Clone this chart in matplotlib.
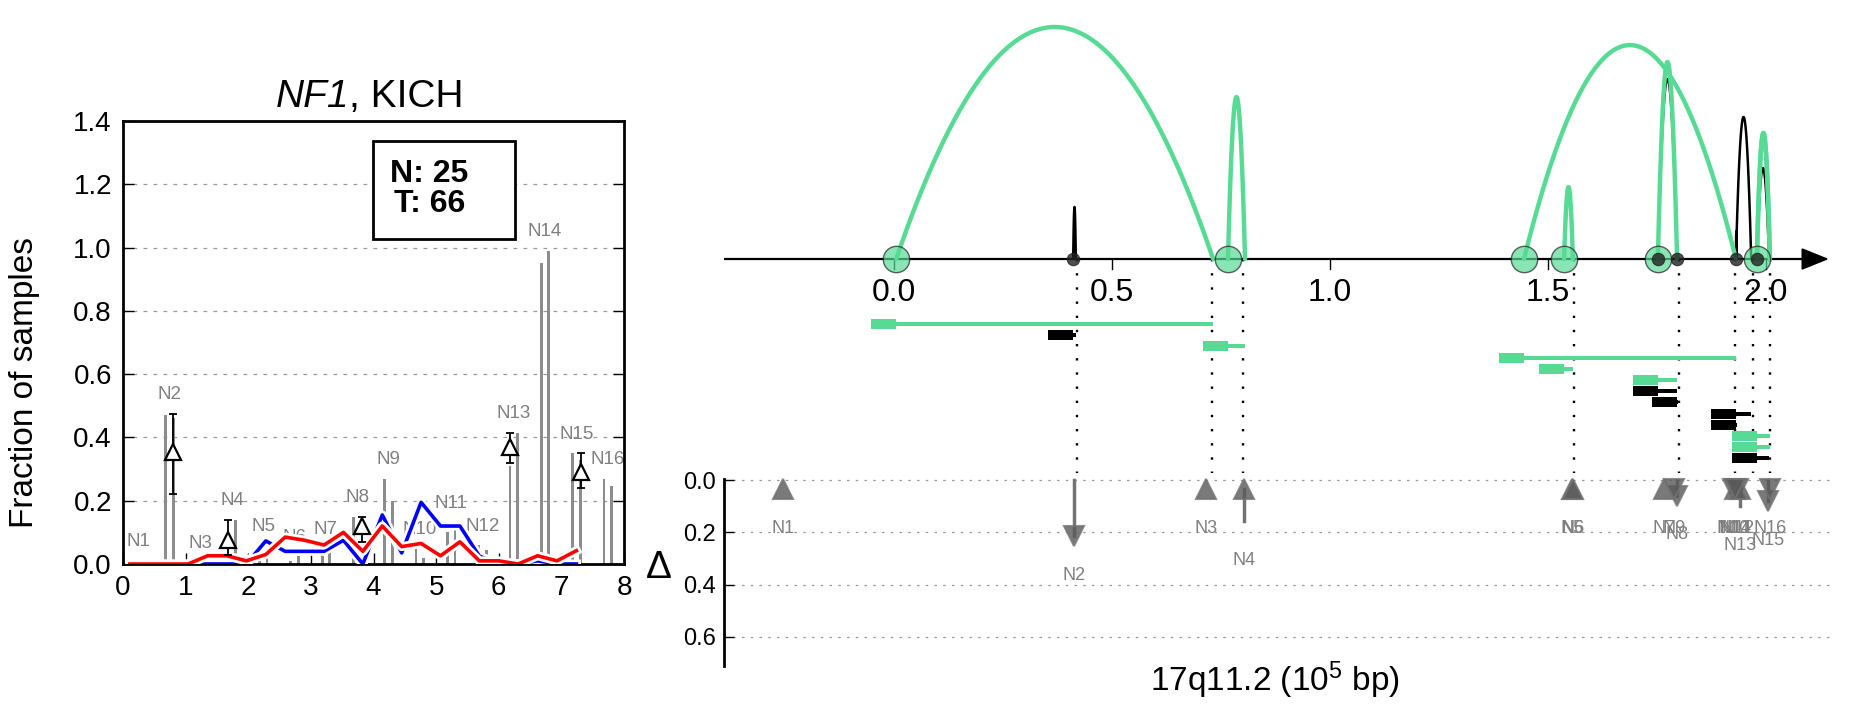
import numpy as np
import matplotlib
matplotlib.use("Agg")
import matplotlib.pyplot as plt
import matplotlib.patheffects as pe
from matplotlib.patches import Rectangle, Polygon

plt.rcParams['font.family'] = ['Liberation Sans', 'DejaVu Sans']
plt.rcParams['mathtext.fontset'] = 'custom'
plt.rcParams['mathtext.rm'] = 'Liberation Sans'
plt.rcParams['mathtext.it'] = 'Liberation Sans:italic'

# ---------------- left panel data ----------------
n_labels = ["N%d" % i for i in range(1, 17)]
bar_x = [0.18, 0.68, 1.18, 1.68, 2.18, 2.68, 3.18, 3.68,
         4.18, 4.68, 5.18, 5.68, 6.18, 6.68, 7.18, 7.68]
bar_h1 = [0.01, 0.47, 0.0, 0.0, 0.06, 0.01, 0.05, 0.15,
          0.27, 0.05, 0.10, 0.06, 0.31, 0.95, 0.35, 0.27]
bar_h2 = [0.0, 0.46, 0.005, 0.14, 0.02, 0.025, 0.05, 0.05,
          0.20, 0.02, 0.13, 0.045, 0.415, 0.99, 0.33, 0.245]

tri_x = [0.80, 1.68, 3.82, 6.18, 7.32]
tri_y = [0.355, 0.076, 0.12, 0.37, 0.29]
tri_lo = [0.22, 0.03, 0.07, 0.32, 0.24]
tri_hi = [0.475, 0.14, 0.148, 0.415, 0.35]

line_x = [0.11, 0.42, 0.73, 1.04, 1.35, 1.66, 1.97, 2.28, 2.59, 2.90, 3.21, 3.52,
          3.83, 4.14, 4.45, 4.76, 5.07, 5.38, 5.69, 6.00, 6.31, 6.62, 6.93, 7.24]
blue_y = [0, 0, 0, 0, 0, 0, 0, 0.073, 0.04, 0.04, 0.04, 0.075,
          0.0, 0.155, 0.035, 0.195, 0.12, 0.12, 0.025, 0.0, 0.0, 0.01, 0.0, 0.0]
red_y = [0, 0, 0, 0, 0.026, 0.026, 0.01, 0.03, 0.085, 0.075, 0.06, 0.10,
         0.04, 0.12, 0.055, 0.065, 0.026, 0.07, 0.01, 0.01, 0.0, 0.026, 0.01, 0.042]

n_count, t_count = 25, 66
gene, cohort = "NF1", "KICH"

# ---------------- right panel data (x in 1e5 bp) ----------------
bp1 = [0.005, 0.411, 0.766, 1.445, 1.537, 1.752, 1.752, 1.796, 1.931, 1.931, 1.979, 1.979, 1.979]
bp2 = [0.732, 0.417, 0.805, 1.931, 1.557, 1.796, 1.796, 1.798, 1.966, 1.933, 2.009, 2.009, 2.007]
ev_green = [1, 0, 1, 1, 1, 1, 0, 0, 0, 0, 1, 1, 0]
arc_h = [1.0, 0.224, 0.698, 0.922, 0.310, 0.849, 0.776, 0.06, 0.612, 0.12, 0.543, 0.543, 0.392]

pos_ticks = [0.0, 0.5, 1.0, 1.5, 2.0]

d_labels = ["N%d" % i for i in range(1, 17)]
d_pos = [-0.255, 0.413, 0.715, 0.802, 1.555, 1.557, 1.766, 1.796,
         1.790, 1.925, 1.930, 1.935, 1.940, 1.930, 2.005, 2.009]
d_start = [0.035, 0.0, 0.035, 0.157, 0.035, 0.035, 0.035, 0.0,
           0.035, 0.035, 0.035, 0.035, 0.10, 0.035, 0.0, 0.035]
d_end = [0.035, 0.215, 0.035, 0.035, 0.035, 0.035, 0.035, 0.06,
         0.035, 0.035, 0.035, 0.035, 0.035, 0.035, 0.08, 0.035]
d_up = [1, 0, 1, 1, 1, 1, 1, 0, 0, 0, 1, 0, 1, 0, 0, 0]

GREEN = '#57DB94'

W, H = 1851, 718
fig = plt.figure(figsize=(W / 100, H / 100), dpi=100)


def box(x0, y0, x1, y1):
    return [x0 / W, 1 - y1 / H, (x1 - x0) / W, (y1 - y0) / H]


# ================= left panel =================
ax1 = fig.add_axes(box(123, 121, 624, 564))
ax1.bar(bar_x, bar_h1, width=0.045, color='0.55', zorder=1)
ax1.bar([x + 0.12 for x in bar_x], bar_h2, width=0.045, color='0.55', zorder=1)

for i, lab in enumerate(n_labels):
    top = max(bar_h1[i], bar_h2[i])
    for j, tx in enumerate(tri_x):
        if abs(tx - bar_x[i] - 0.06) < 0.2:
            top = max(top, tri_hi[j])
    ax1.text(bar_x[i] + 0.06, top + 0.06, lab, color='0.5', fontsize=13.5,
             ha='center', va='center', zorder=2)

stroke = [pe.Stroke(linewidth=6.5, foreground='white'), pe.Normal()]
ax1.plot(line_x, blue_y, color='#0000FF', lw=2.6, zorder=3, path_effects=stroke)
ax1.plot(line_x, red_y, color='#FF0000', lw=2.6, zorder=3, path_effects=stroke)

err = [np.array(tri_y) - np.array(tri_lo), np.array(tri_hi) - np.array(tri_y)]
ax1.errorbar(tri_x, tri_y, yerr=err, fmt='none', ecolor='black', elinewidth=1.3,
             capsize=3, capthick=1.3, zorder=4)
ax1.plot(tri_x, tri_y, '^', ms=11, mfc='white', mec='black', mew=1.6, zorder=5,
         linestyle='none')

ax1.add_patch(Rectangle((3.99, 1.027), 2.27, 0.31, facecolor='white',
                        edgecolor='black', lw=2, zorder=6))
ax1.text(4.89, 1.185, "N: %d\nT: %d" % (n_count, t_count), fontsize=23,
         fontweight='bold', ha='center', va='center', multialignment='center',
         linespacing=1.0, zorder=7)

ax1.set_xlim(0, 8)
ax1.set_ylim(0, 1.4)
ax1.set_xticks(range(0, 9))
ax1.set_yticks(np.arange(0, 1.41, 0.2))
ax1.set_yticklabels(["%.1f" % v for v in np.arange(0, 1.41, 0.2)])
ax1.tick_params(direction='in', length=8, width=1, labelsize=20, right=True, pad=8)
for s in ax1.spines.values():
    s.set_linewidth(2)
ax1.yaxis.grid(True, linestyle=(0, (3, 5)), color='0.6', lw=0.9)
ax1.set_axisbelow(True)
ax1.set_ylabel("Fraction of samples", fontsize=24)
ax1.yaxis.set_label_coords(-0.165, 0.41)

# title: italic gene name followed by cohort
t1 = ax1.text(3.61, 1.445, gene, fontsize=28, style='italic', ha='right',
              va='baseline', clip_on=False)
ax1.annotate(", " + cohort, xy=(1, 0), xycoords=t1, fontsize=28,
             ha='left', va='bottom')

# ================= right panel: top =================
u_left = (724 - 894) / 436
u_right = (1830 - 894) / 436
ax2 = fig.add_axes(box(724, 0, 1830, 475))
ax2.set_xlim(u_left, u_right)
ax2.set_ylim(-216, 259)
ax2.axis('off')

arc_scale = 232
row_y0, row_step = -65, 11.2

# vertical dotted guide lines at breakpoint ends
for u in np.unique(np.round(bp2, 2)):
    ax2.plot([u, u], [0, -214], color='black', lw=1.7, linestyle=(0, (1, 5)), zorder=1)

# axis line with arrow
ax2.plot([u_left, 2.09], [0, 0], color='black', lw=1.6, zorder=2)
ax2.add_patch(Polygon([[2.083, 10], [2.083, -10], [2.14, 0]], closed=True,
                      color='black', clip_on=False, zorder=2))
for t in pos_ticks:
    ax2.plot([t, t], [0, -10], color='black', lw=1, zorder=2)
    ax2.text(t, -34, "%.1f" % t, fontsize=23, ha='center', va='center')

# arcs: black first, green on top
for pass_green in (0, 1):
    for a, b, g, h in zip(bp1, bp2, ev_green, arc_h):
        if g != pass_green:
            continue
        xs = np.linspace(a, b, 120)
        ys = 4 * h * arc_scale * (xs - a) * (b - xs) / max((b - a) ** 2, 1e-9)
        ax2.plot(xs, ys, color=GREEN if g else 'black', lw=3.2 if g else 1.8,
                 zorder=3 if g else 2.5, solid_capstyle='round')

# breakpoint circles
g_pos = sorted(set(a for a, g in zip(bp1, ev_green) if g))
k_pos = sorted(set(a for a, g in zip(bp1, ev_green) if not g))
ax2.scatter(g_pos, [0] * len(g_pos), s=360, facecolor=GREEN, alpha=0.7,
            edgecolor='#222222', lw=1, zorder=4)
ax2.scatter(k_pos, [0] * len(k_pos), s=80, facecolor='#222222', alpha=0.8,
            edgecolor='#222222', lw=0.8, zorder=5)

# event range bars
for i, (a, b, g) in enumerate(zip(bp1, bp2, ev_green)):
    y = row_y0 - row_step * i
    c = GREEN if g else 'black'
    ax2.add_patch(Rectangle((a - 0.057, y - 5), 0.057, 10, color=c, lw=0, zorder=3))
    ax2.add_patch(Rectangle((a, y - 2), b - a, 4, color=c, lw=0, zorder=3))

# ================= right panel: bottom =================
ax3 = fig.add_axes(box(724, 479, 1830, 666))
ax3.set_xlim(u_left, u_right)
ax3.set_ylim(0.711, -0.004)
for k in ('top', 'right', 'bottom'):
    ax3.spines[k].set_visible(False)
ax3.spines['left'].set_linewidth(2)
ax3.set_xticks([])
ax3.set_yticks([0, 0.2, 0.4, 0.6])
ax3.set_yticklabels(["0.0", "0.2", "0.4", "0.6"])
ax3.tick_params(axis='y', direction='in', length=7, width=1, labelsize=17, pad=6)
ax3.yaxis.grid(True, linestyle=(0, (2, 5)), color='0.6', lw=0.9)
ax3.set_axisbelow(True)
ax3.patch.set_alpha(0)

for lab, u, s0, s1, up in zip(d_labels, d_pos, d_start, d_end, d_up):
    if s0 != s1:
        ax3.plot([u, u], [s0, s1], color='0.45', lw=2.5, zorder=3, clip_on=False)
    ax3.plot([u], [s1], '^' if up else 'v', ms=15, mfc='0.35', mec='0.45',
             alpha=0.8, mew=1.5, zorder=4, clip_on=False)
    ax3.text(u, max(s0, s1) + 0.15, lab, color='0.5', fontsize=13,
             ha='center', va='center', zorder=5)

fig.text(659 / W, 1 - 568 / H, "\u0394", fontsize=28, ha='center', va='center')
fig.text(1275 / W, 1 - 680 / H, r"17q11.2 (10$^5$ bp)", fontsize=24,
         ha='center', va='center')

fig.savefig("out.png", dpi=100)
